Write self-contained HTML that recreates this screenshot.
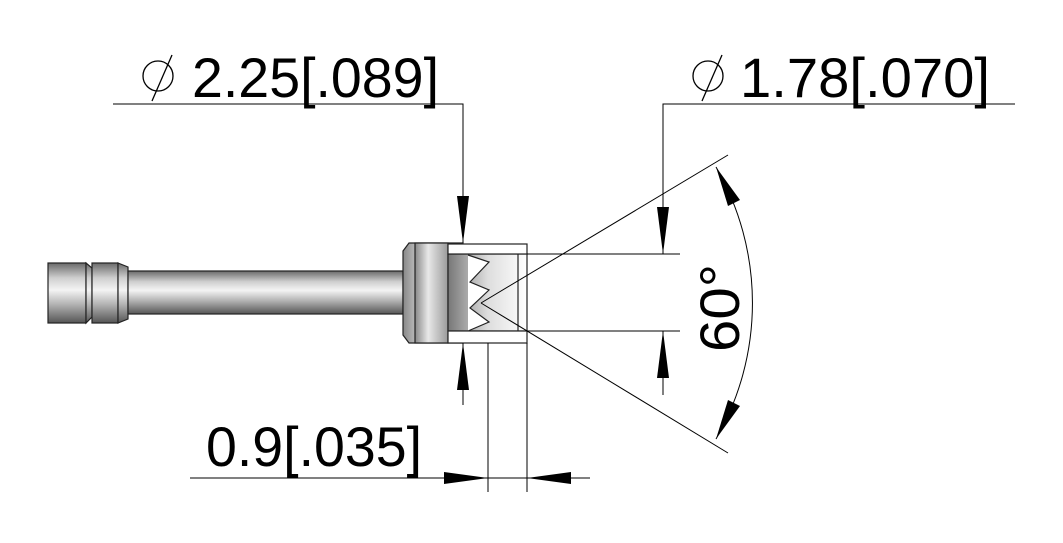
<!DOCTYPE html>
<html><head><meta charset="utf-8"><style>
html,body{margin:0;padding:0;background:#fff;}
svg{display:block;}
text{font-family:"Liberation Sans","DejaVu Sans",sans-serif;fill:#000;}
</style></head><body>
<svg width="1063" height="543" viewBox="0 0 1063 543" xmlns="http://www.w3.org/2000/svg">
<defs>
<linearGradient id="g" x1="0" y1="0" x2="0" y2="1">
<stop offset="0" stop-color="#6a6a6a"/><stop offset="0.25" stop-color="#cfcfcf"/><stop offset="0.45" stop-color="#f4f4f4"/><stop offset="0.7" stop-color="#b0b0b0"/><stop offset="1" stop-color="#555"/>
</linearGradient>
<linearGradient id="g2" x1="0" y1="0" x2="1" y2="0">
<stop offset="0" stop-color="#888"/><stop offset="0.4" stop-color="#e8e8e8"/><stop offset="1" stop-color="#9a9a9a"/>
</linearGradient>
<linearGradient id="g3" x1="0" y1="0" x2="1" y2="0">
<stop offset="0" stop-color="#777"/><stop offset="0.5" stop-color="#ddd"/><stop offset="1" stop-color="#fff"/>
</linearGradient>
</defs>
<g stroke="#222" stroke-width="1.2">
<rect x="48" y="263" width="38" height="60" fill="url(#g)"/>
<path d="M86 263 L92 268 L92 317 L86 323 Z" fill="url(#g)"/>
<rect x="92" y="263" width="26" height="60" fill="url(#g)"/>
<path d="M118 263 L128 267 L128 319 L118 323 Z" fill="url(#g)"/>
<rect x="128" y="271" width="275" height="43" fill="url(#g)"/>
<path d="M403 251 L409 243 L463 243 L463 343 L409 343 L403 335 Z" fill="url(#g2)"/>
<rect x="415" y="243" width="33" height="100" fill="url(#g2)"/>
<rect x="448" y="254" width="79" height="77" fill="url(#g3)"/>
<rect x="448" y="244" width="79" height="10" fill="#fff"/>
<rect x="448" y="331" width="79" height="12" fill="#fff"/>
<path d="M468 255 L489 262 L470 282 L489 290 L470 308 L489 322 L468 331" fill="#fff" stroke="#222"/>
<line x1="518" y1="254" x2="518" y2="331"/>
</g>
<g stroke="#000" stroke-width="1" fill="none">
<polyline points="113,104 463,104 463,243"/>
<line x1="463" y1="343" x2="463" y2="405"/>
<polyline points="1015,104 663,104 663,254"/>
<line x1="663" y1="331" x2="663" y2="395"/>
<line x1="527" y1="254" x2="680" y2="254"/>
<line x1="527" y1="331" x2="680" y2="331"/>
<line x1="481" y1="303" x2="728" y2="155"/>
<line x1="481" y1="303" x2="728" y2="453"/>
<path d="M716 167 A272 272 0 0 1 716 439"/>
<line x1="488" y1="343" x2="488" y2="492"/>
<line x1="527" y1="343" x2="527" y2="492"/>
<line x1="190" y1="478" x2="590" y2="478"/>
<!-- phi symbols -->
<circle cx="158" cy="76" r="15" stroke-width="1.3"/>
<line x1="172" y1="55" x2="152" y2="101" stroke-width="1.3"/>
<circle cx="708" cy="76" r="15" stroke-width="1.3"/>
<line x1="722" y1="55" x2="702" y2="101" stroke-width="1.3"/>
</g>
<g fill="#000">
<polygon points="463,243 457,196 469,196"/>
<polygon points="463,343 457,390 469,390"/>
<polygon points="663,254 657,207 669,207"/>
<polygon points="663,331 657,378 669,378"/>
<polygon points="716,167 740,200 728,206"/>
<polygon points="716,439 740,406 728,400"/>
<polygon points="488,478 444,472 444,484"/>
<polygon points="527,478 571,472 571,484"/>
</g>
<text x="192" y="97" font-size="56" textLength="247" lengthAdjust="spacingAndGlyphs">2.25[.089]</text>
<text x="740" y="97" font-size="56" textLength="250" lengthAdjust="spacingAndGlyphs">1.78[.070]</text>
<text x="206" y="466" font-size="56" textLength="216" lengthAdjust="spacingAndGlyphs">0.9[.035]</text>
<text x="0" y="0" font-size="56" textLength="88" lengthAdjust="spacingAndGlyphs" transform="translate(739,352) rotate(-90)">60°</text>
</svg>
</body></html>
